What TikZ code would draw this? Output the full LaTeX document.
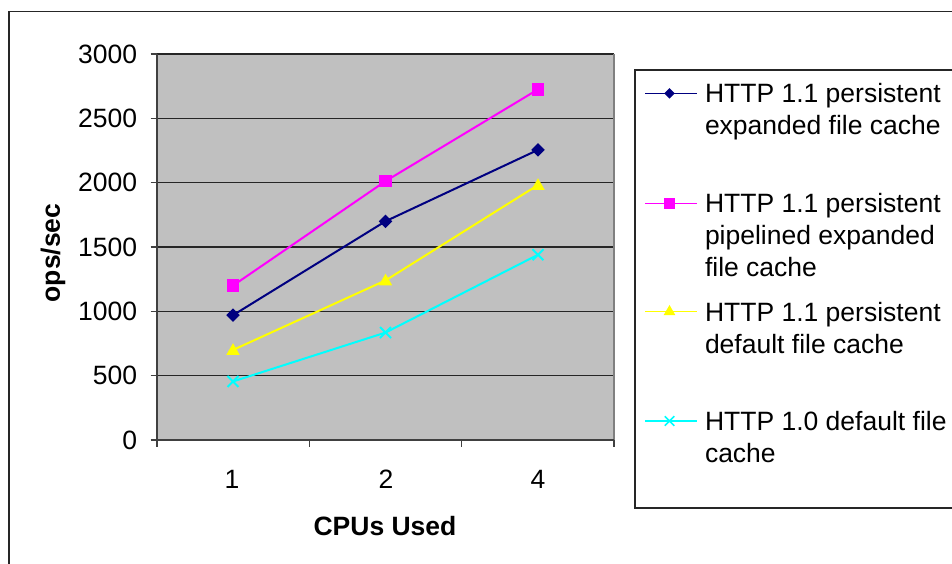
\documentclass[tikz,border=0pt]{standalone}
\usepackage{fontspec}
\setmainfont{Liberation Sans}
\usetikzlibrary{shapes.geometric,shapes.misc,calc}

\definecolor{navyS}{HTML}{000080}
\definecolor{magS}{HTML}{FF00FF}
\definecolor{yelS}{HTML}{FFFF00}
\definecolor{cyaS}{HTML}{00FFFF}
\definecolor{plotbg}{HTML}{C0C0C0}
\definecolor{frameS}{HTML}{808080}

% value (ops/sec) -> vertical position
\def\vy#1{440-0.128667*#1}
% stacked legend lines, the baseline being that of the first line
\newcommand\leglines[1]{\vtop{\baselineskip=32pt\halign{##\hfil\cr#1\crcr}}}

\begin{document}
\begin{tikzpicture}[x=1pt,y=-1pt,
  every node/.style={inner sep=0pt,outer sep=0pt},
  lbl/.style={font=\fontsize{26.5}{32}\selectfont},
  ttl/.style={font=\bfseries\fontsize{26.5}{32}\selectfont},
  legtxt/.style={font=\fontsize{26.5}{32}\selectfont,anchor=base west},
  gridline/.style={black!85,line width=1.1pt},
  axisline/.style={black!75,line width=1.8pt},
  tickline/.style={black!75,line width=1.2pt},
  seriesline/.style={line width=2pt,line join=round},
  legline/.style={line width=1.5pt},
  mkdiamond/.style={diamond,fill=navyS,minimum size=13.5pt,aspect=1},
  mksquare/.style={rectangle,fill=magS,minimum size=12.5pt},
  mktri/.style={regular polygon,regular polygon sides=3,fill=yelS,minimum size=15.5pt},
  mkcross/.style={cross out,draw=cyaS,line width=2pt,minimum size=11pt},
  mkdiamondS/.style={mkdiamond,minimum size=10.5pt},
  mksquareS/.style={mksquare,minimum size=11pt},
  mktriS/.style={mktri,minimum size=13.5pt},
  mkcrossS/.style={mkcross,minimum size=9.5pt,line width=1.6pt},
]
\useasboundingbox (0,0) rectangle (952,564);
\fill[white] (0,0) rectangle (952,564);

% chart frame (runs past the page on the right and bottom)
\draw[black!85,line width=1.4pt] (9,11.5) rectangle (990,600);

% plot area
\fill[plotbg] (157,54) rectangle (614,440);
\foreach \v in {500,1000,...,3000}
  \draw[gridline] (157,{\vy{\v}}) -- (614,{\vy{\v}});
\draw[frameS,line width=2pt] (614,54) -- (614,440);

% axes and ticks
\draw[axisline] (157,54) -- (157,440);
\draw[axisline] (157,440) -- (614,440);
\foreach \v in {0,500,...,3000}{
  \draw[tickline] (150.5,{\vy{\v}}) -- (157,{\vy{\v}});
  \node[lbl,anchor=east] (yl\v) at (137,{\vy{\v}}) {\v};
}
\foreach \x in {157,309.3,461.7,614}
  \draw[tickline] (\x,440) -- (\x,447);
\node[lbl] (xl1) at (232,479) {1};
\node[lbl] (xl2) at (386,479) {2};
\node[lbl] (xl4) at (538,479) {4};

% axis titles
\node[ttl,rotate=90] (ytitle) at (53,253) {ops/sec};
\node[ttl] (xtitle) at (385,526) {CPUs Used};

% data points
\foreach \n/\a/\b/\c in {nv/970/1700/2255, mg/1200/2012/2725, ye/700/1240/1982, cy/455/835/1440}{
  \coordinate (\n1) at (233,{\vy{\a}});
  \coordinate (\n2) at (385.5,{\vy{\b}});
  \coordinate (\n3) at (538,{\vy{\c}});
}

% series lines
\draw[seriesline,cyaS] (cy1) -- (cy2) -- (cy3);
\draw[seriesline,yelS] (ye1) -- (ye2) -- (ye3);
\draw[seriesline,navyS] (nv1) -- (nv2) -- (nv3);
\draw[seriesline,magS] (mg1) -- (mg2) -- (mg3);

% markers
\foreach \i in {1,2,3}{
  \node[mkcross] (cym\i) at (cy\i) {};
  \node[mktri] (yem\i) at ($(ye\i)+(0,1)$) {};
  \node[mkdiamond] (nvm\i) at (nv\i) {};
  \node[mksquare] (mgm\i) at (mg\i) {};
}

% legend
\draw[black!85,line width=1.4pt] (635,70) rectangle (990,508);
\foreach \n/\y/\st/\col in {a/93.3/mkdiamondS/navyS, b/203.5/mksquareS/magS, c/311.7/mktriS/yelS, d/421/mkcrossS/cyaS}{
  \coordinate (l\n s) at (645,\y);
  \coordinate (l\n e) at (697,\y);
  \draw[legline,\col] (l\n s) -- (l\n e);
  \node[\st] (l\n m) at (669.5,\y) {};
}
\node[legtxt] (ta) at (705,102.6) {\leglines{HTTP 1.1 persistent\cr expanded file cache}};
\node[legtxt] (tb) at (705,212.8) {\leglines{HTTP 1.1 persistent\cr pipelined expanded\cr file cache}};
\node[legtxt] (tc) at (705,321) {\leglines{HTTP 1.1 persistent\cr default file cache}};
\node[legtxt] (td) at (705,430.3) {\leglines{HTTP 1.0 default file\cr cache}};
\end{tikzpicture}
\end{document}
